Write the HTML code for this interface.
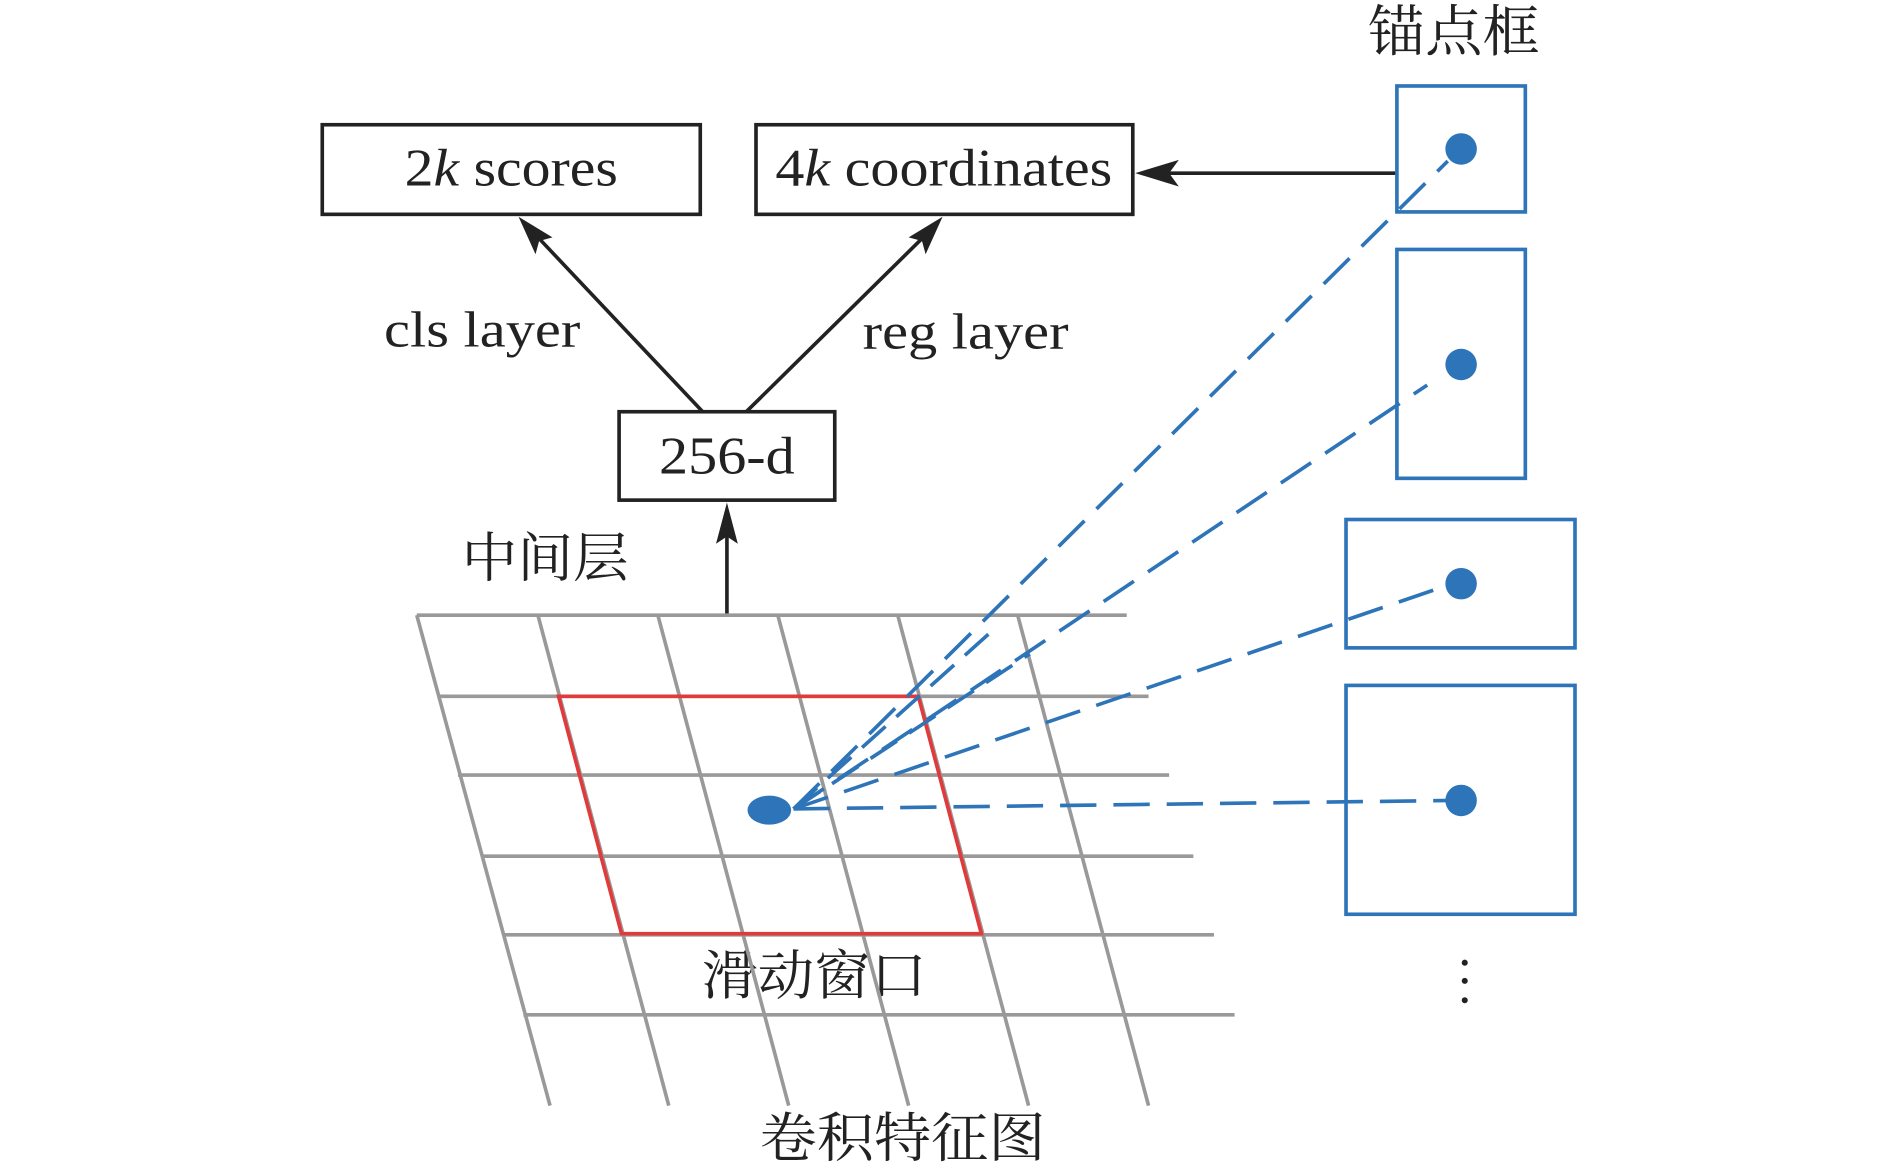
<!DOCTYPE html>
<html><head><meta charset="utf-8"><style>html,body{margin:0;padding:0;background:#fff;}svg{display:block}</style></head>
<body>
<svg width="1890" height="1171" viewBox="0 0 1560 967" preserveAspectRatio="none" xmlns="http://www.w3.org/2000/svg">
<g font-family="'Liberation Serif','Noto Serif CJK SC',serif" fill="#222" text-anchor="middle">
<rect x="266" y="103" width="312" height="74" fill="none" stroke="#222" stroke-width="3"/>
<rect x="624" y="103" width="311" height="74" fill="none" stroke="#222" stroke-width="3"/>
<rect x="511" y="340" width="178" height="73" fill="none" stroke="#222" stroke-width="3"/>
<text x="422" y="153" font-size="44" textLength="176" lengthAdjust="spacingAndGlyphs">2<tspan font-style="italic">k</tspan> scores</text>
<text x="779" y="153" font-size="44" textLength="278" lengthAdjust="spacingAndGlyphs">4<tspan font-style="italic">k</tspan> coordinates</text>
<text x="600" y="391" font-size="44" textLength="112" lengthAdjust="spacingAndGlyphs">256-d</text>
<text x="398" y="286" font-size="42" textLength="162" lengthAdjust="spacingAndGlyphs">cls layer</text>
<text x="797" y="288" font-size="42" textLength="170" lengthAdjust="spacingAndGlyphs">reg layer</text>
<text x="450" y="476" font-size="44" textLength="138" lengthAdjust="spacingAndGlyphs">中间层</text>
<text x="1200" y="42" font-size="46" textLength="142" lengthAdjust="spacingAndGlyphs">锚点框</text>
<text x="672" y="821" font-size="44" textLength="186" lengthAdjust="spacingAndGlyphs">滑动窗口</text>
<text x="745" y="955" font-size="44" textLength="236" lengthAdjust="spacingAndGlyphs">卷积特征图</text>
</g>
<g stroke="#222" stroke-width="3" fill="none">
<line x1="1152" y1="143" x2="960" y2="143"/>
<line x1="580" y1="340" x2="445" y2="197"/>
<line x1="616" y1="340" x2="761" y2="197"/>
<line x1="600" y1="508" x2="600" y2="440"/>
</g>
<g fill="#222">
<polygon points="937,143 973,132 965,143 973,154"/>
<polygon points="428,179 456,196 445,199 442,210"/>
<polygon points="778,179 764,210 761,199 750,196"/>
<polygon points="600,415 609,449 600,443 591,449"/>
</g>
<g stroke="#999" stroke-width="3">
<line x1="344" y1="508" x2="930" y2="508"/>
<line x1="362" y1="575" x2="948" y2="575"/>
<line x1="378" y1="640" x2="965" y2="640"/>
<line x1="397" y1="707" x2="985" y2="707"/>
<line x1="415" y1="772" x2="1002" y2="772"/>
<line x1="432" y1="838" x2="1019" y2="838"/>
<line x1="344" y1="508" x2="454" y2="913"/>
<line x1="444" y1="508" x2="552" y2="913"/>
<line x1="543" y1="508" x2="651" y2="913"/>
<line x1="642" y1="508" x2="750" y2="913"/>
<line x1="741" y1="508" x2="849" y2="913"/>
<line x1="840" y1="508" x2="948" y2="913"/>
</g>
<polygon points="461,575 758,575 810,771 513,771" fill="none" stroke="#e03a3a" stroke-width="3"/>
<g stroke="#2e74b8" stroke-width="3" fill="none">
<rect x="1153" y="71" width="106" height="104"/>
<rect x="1153" y="206" width="106" height="189"/>
<rect x="1111" y="429" width="189" height="106"/>
<rect x="1111" y="566" width="189" height="189"/>
<g stroke-dasharray="30,14">
<line x1="655" y1="668" x2="1195" y2="133"/>
<line x1="655" y1="668" x2="1178" y2="318"/>
<line x1="655" y1="668" x2="1190" y2="485"/>
<line x1="655" y1="668" x2="1200" y2="661"/>
</g>
<g stroke-dasharray="26,12">
<line x1="655" y1="668" x2="820" y2="520"/>
<line x1="655" y1="668" x2="850" y2="540"/>
</g>
</g>
<g fill="#2e74b8">
<circle cx="1206" cy="123" r="13"/>
<circle cx="1206" cy="301" r="13"/>
<circle cx="1206" cy="482" r="13"/>
<circle cx="1206" cy="661" r="13"/>
<ellipse cx="635" cy="669" rx="18" ry="12"/>
</g>
<g fill="#222">
<circle cx="1209" cy="795" r="2.5"/><circle cx="1209" cy="810" r="2.5"/><circle cx="1209" cy="826" r="2.5"/>
</g>
</svg>
</body></html>
